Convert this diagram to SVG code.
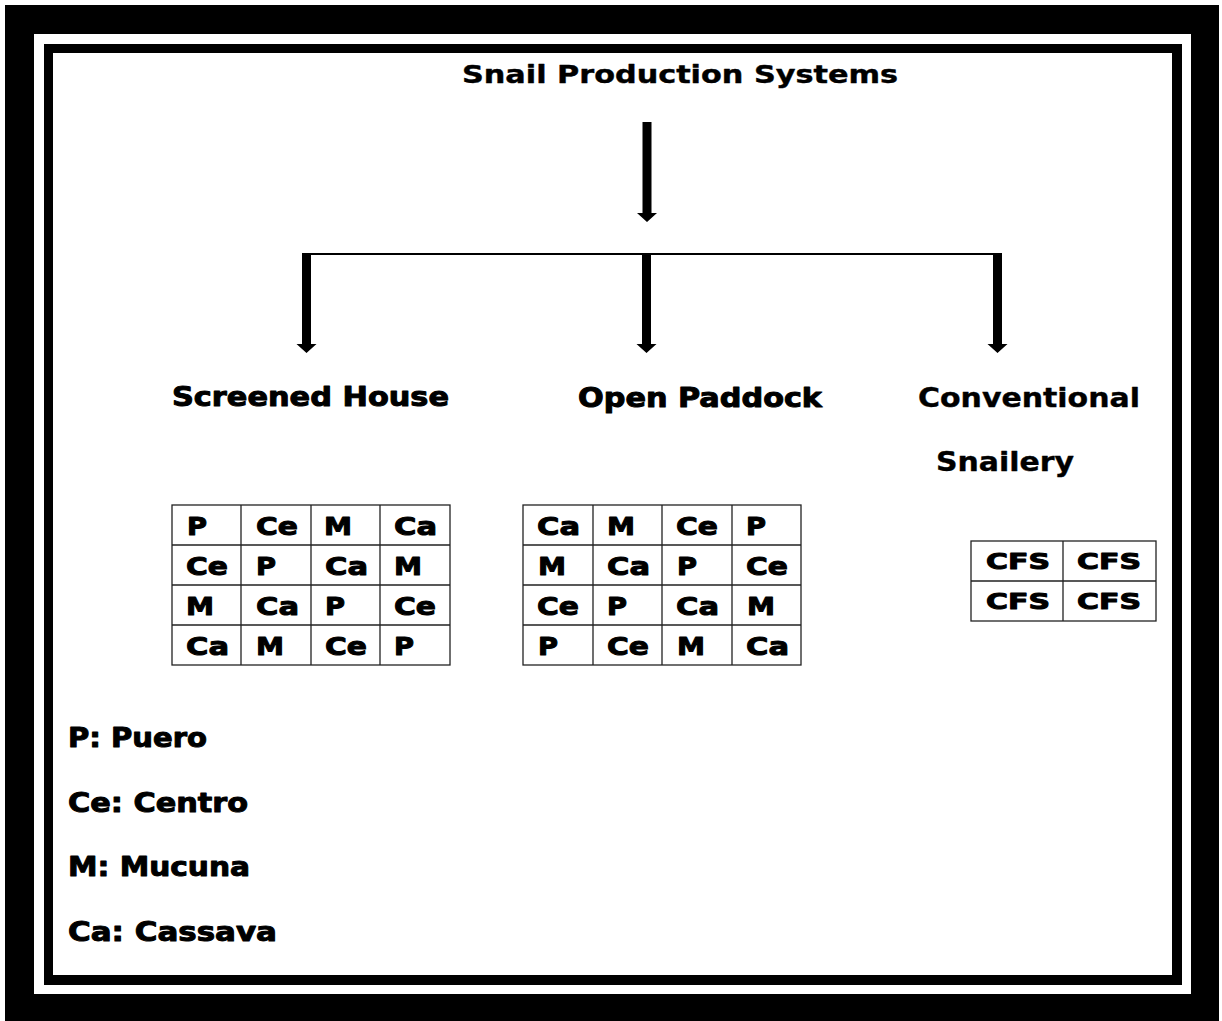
<svg xmlns="http://www.w3.org/2000/svg" xmlns:xlink="http://www.w3.org/1999/xlink" width="1222" height="1021" viewBox="0 0 1222 1021">
<style>
.t{font-family:"DejaVu Sans","Liberation Sans",sans-serif;font-weight:bold;fill:#000;stroke:#000;stroke-width:1;stroke-linejoin:round}
.thin{stroke-width:0.4}
.lbl{font-size:27px}
.cell{font-size:25px}
.cfs{font-size:22px}
.grid{fill:none;stroke:#222;stroke-width:1.3}
</style>
<defs>
<path id="arrow" d="M-4.5,0 H4.5 V91 H10 L0,100 L-10,91 H-4.5 Z" fill="#000"/>
</defs>
<rect width="1222" height="1021" fill="#fff"/>
<g id="frame">
<rect x="5" y="5" width="1214" height="1016" fill="#000"/>
<rect x="34" y="34" width="1157" height="960" fill="#fff"/>
<rect x="44" y="44" width="1138" height="941" fill="#000"/>
<rect x="53" y="53" width="1119" height="922" fill="#fff"/>
</g>
<g id="connectors">
<use xlink:href="#arrow" x="647" y="122"/>
<line x1="306" y1="254" x2="998" y2="254" stroke="#000" stroke-width="2"/>
<use xlink:href="#arrow" x="306.5" y="253"/>
<use xlink:href="#arrow" x="646.5" y="253"/>
<use xlink:href="#arrow" x="997.5" y="253"/>
</g>
<g id="title">
<text class="t thin" x="462" y="83" font-size="24" textLength="436" lengthAdjust="spacingAndGlyphs">Snail Production Systems</text>
</g>
<g id="screened-house">
<text class="t lbl" x="172" y="406" textLength="277" lengthAdjust="spacingAndGlyphs">Screened House</text>
</g>
<g id="open-paddock">
<text class="t lbl" x="578" y="407" textLength="244" lengthAdjust="spacingAndGlyphs">Open Paddock</text>
</g>
<g id="conventional-snailery">
<text class="t lbl thin" x="918" y="407" textLength="222" lengthAdjust="spacingAndGlyphs">Conventional</text>
<text class="t lbl thin" x="936" y="471" textLength="138" lengthAdjust="spacingAndGlyphs">Snailery</text>
</g>
<g id="table-screened-house">
<rect class="grid" x="172" y="505" width="278" height="160"/>
<path class="grid" d="M241,505V665M311,505V665M380,505V665M172,545H450M172,585H450M172,625H450"/>
<g class="t cell" font-size="25">
<text x="187" y="535" textLength="20" lengthAdjust="spacingAndGlyphs">P</text>
<text x="256" y="535" textLength="42" lengthAdjust="spacingAndGlyphs">Ce</text>
<text x="324" y="535" textLength="28" lengthAdjust="spacingAndGlyphs">M</text>
<text x="394" y="535" textLength="43" lengthAdjust="spacingAndGlyphs">Ca</text>
<text x="186" y="575" textLength="42" lengthAdjust="spacingAndGlyphs">Ce</text>
<text x="256" y="575" textLength="20" lengthAdjust="spacingAndGlyphs">P</text>
<text x="325" y="575" textLength="43" lengthAdjust="spacingAndGlyphs">Ca</text>
<text x="394" y="575" textLength="28" lengthAdjust="spacingAndGlyphs">M</text>
<text x="186" y="615" textLength="28" lengthAdjust="spacingAndGlyphs">M</text>
<text x="256" y="615" textLength="43" lengthAdjust="spacingAndGlyphs">Ca</text>
<text x="325" y="615" textLength="20" lengthAdjust="spacingAndGlyphs">P</text>
<text x="394" y="615" textLength="42" lengthAdjust="spacingAndGlyphs">Ce</text>
<text x="186" y="655" textLength="43" lengthAdjust="spacingAndGlyphs">Ca</text>
<text x="256" y="655" textLength="28" lengthAdjust="spacingAndGlyphs">M</text>
<text x="325" y="655" textLength="42" lengthAdjust="spacingAndGlyphs">Ce</text>
<text x="394" y="655" textLength="20" lengthAdjust="spacingAndGlyphs">P</text>
</g>
</g>
<g id="table-open-paddock">
<rect class="grid" x="523" y="505" width="278" height="160"/>
<path class="grid" d="M593,505V665M662,505V665M732,505V665M523,545H801M523,585H801M523,625H801"/>
<g class="t cell" font-size="25">
<text x="537" y="535" textLength="43" lengthAdjust="spacingAndGlyphs">Ca</text>
<text x="607" y="535" textLength="28" lengthAdjust="spacingAndGlyphs">M</text>
<text x="676" y="535" textLength="42" lengthAdjust="spacingAndGlyphs">Ce</text>
<text x="746" y="535" textLength="20" lengthAdjust="spacingAndGlyphs">P</text>
<text x="538" y="575" textLength="28" lengthAdjust="spacingAndGlyphs">M</text>
<text x="607" y="575" textLength="43" lengthAdjust="spacingAndGlyphs">Ca</text>
<text x="677" y="575" textLength="20" lengthAdjust="spacingAndGlyphs">P</text>
<text x="746" y="575" textLength="42" lengthAdjust="spacingAndGlyphs">Ce</text>
<text x="537" y="615" textLength="42" lengthAdjust="spacingAndGlyphs">Ce</text>
<text x="607" y="615" textLength="20" lengthAdjust="spacingAndGlyphs">P</text>
<text x="676" y="615" textLength="43" lengthAdjust="spacingAndGlyphs">Ca</text>
<text x="747" y="615" textLength="28" lengthAdjust="spacingAndGlyphs">M</text>
<text x="538" y="655" textLength="20" lengthAdjust="spacingAndGlyphs">P</text>
<text x="607" y="655" textLength="42" lengthAdjust="spacingAndGlyphs">Ce</text>
<text x="677" y="655" textLength="28" lengthAdjust="spacingAndGlyphs">M</text>
<text x="746" y="655" textLength="43" lengthAdjust="spacingAndGlyphs">Ca</text>
</g>
</g>
<g id="table-conventional">
<rect class="grid" x="971" y="541" width="185" height="80"/>
<path class="grid" d="M1063,541V621M971,581H1156"/>
<g class="t cfs" font-size="22">
<text x="986" y="569" textLength="64" lengthAdjust="spacingAndGlyphs">CFS</text>
<text x="1077" y="569" textLength="64" lengthAdjust="spacingAndGlyphs">CFS</text>
<text x="986" y="609" textLength="64" lengthAdjust="spacingAndGlyphs">CFS</text>
<text x="1077" y="609" textLength="64" lengthAdjust="spacingAndGlyphs">CFS</text>
</g>
</g>
<g id="legend">
<text class="t lbl" x="68" y="747" textLength="139" lengthAdjust="spacingAndGlyphs">P: Puero</text>
<text class="t lbl" x="68" y="812" textLength="180" lengthAdjust="spacingAndGlyphs">Ce: Centro</text>
<text class="t lbl" x="68" y="876" textLength="182" lengthAdjust="spacingAndGlyphs">M: Mucuna</text>
<text class="t lbl" x="68" y="941" textLength="209" lengthAdjust="spacingAndGlyphs">Ca: Cassava</text>
</g>
</svg>
